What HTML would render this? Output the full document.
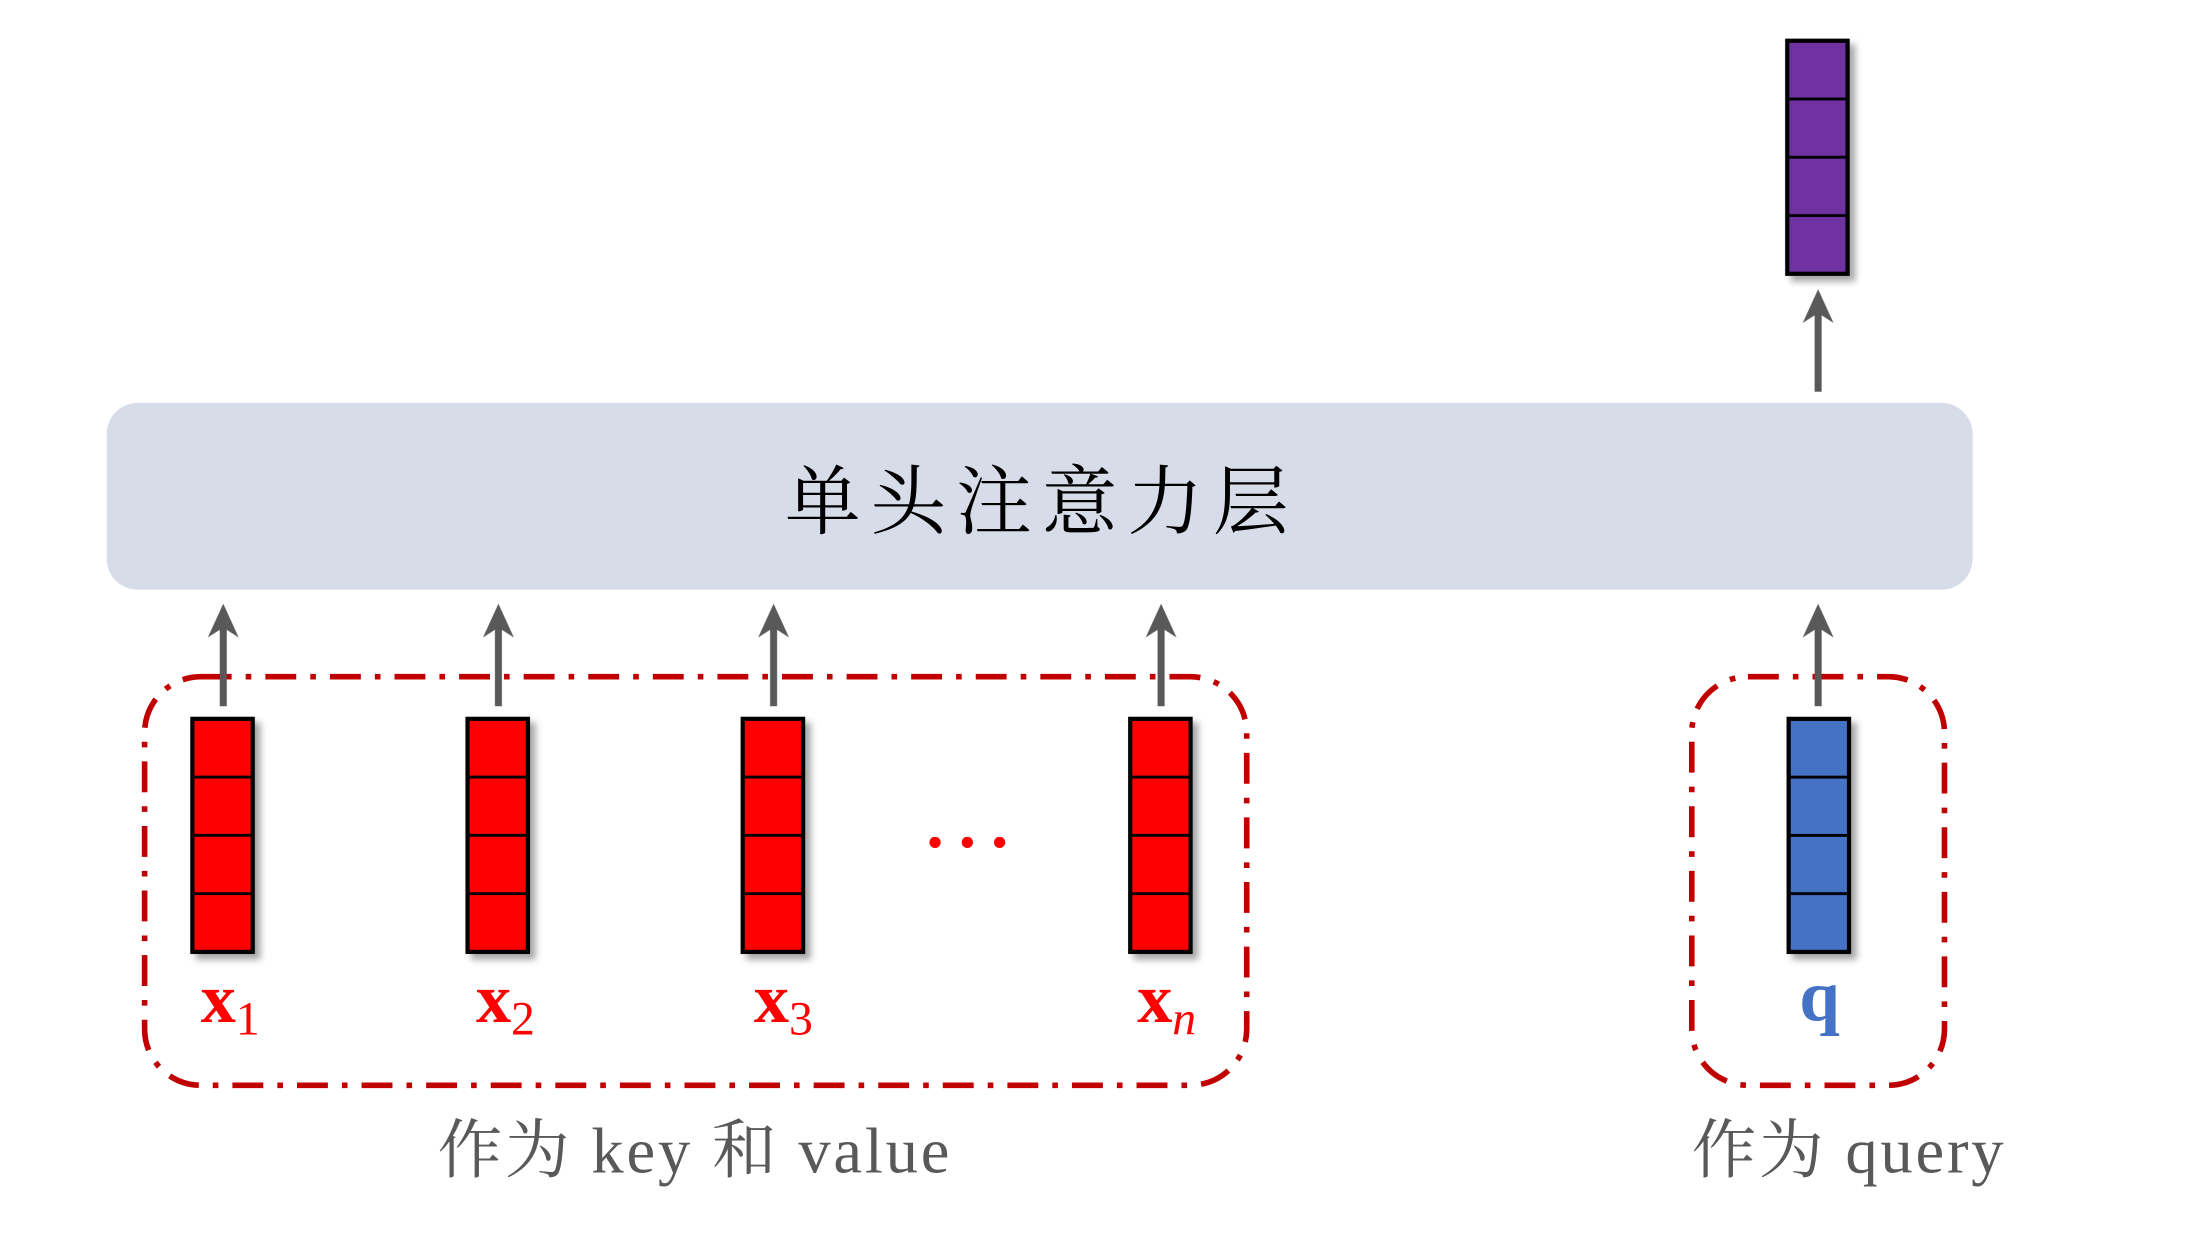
<!DOCTYPE html>
<html><head><meta charset="utf-8"><style>
html,body{margin:0;padding:0;background:#fff;width:2200px;height:1245px;overflow:hidden}
svg{display:block}
</style></head><body>
<svg width="2200" height="1245" viewBox="0 0 1567 885" preserveAspectRatio="xMinYMin meet" xmlns="http://www.w3.org/2000/svg">
<defs>
<filter id="sh" x="-30%" y="-10%" width="160%" height="130%"><feDropShadow dx="4" dy="4" stdDeviation="2.5" flood-color="#000" flood-opacity="0.35"/></filter>
<g id="cells">
<line x1="0" y1="41.5" x2="43" y2="41.5" stroke="#000" stroke-width="2"/>
<line x1="0" y1="83" x2="43" y2="83" stroke="#000" stroke-width="2"/>
<line x1="0" y1="124.5" x2="43" y2="124.5" stroke="#000" stroke-width="2"/>
</g>
<g id="arrow">
<line x1="0" y1="73" x2="0" y2="15" stroke="#595959" stroke-width="5"/>
<path d="M-11,24 L0,0 L11,24 L0,17 Z" fill="#595959"/>
</g>
</defs>
<rect x="76" y="287" width="1329" height="133" rx="22" fill="#d6dde8"/>
<text x="742" y="376" text-anchor="middle" font-family="'Noto Serif CJK SC',serif" font-size="54" fill="#000" letter-spacing="7">单头注意力层</text>

<rect x="103" y="482" width="785" height="291" rx="40" fill="none" stroke="#c00000" stroke-width="4" stroke-dasharray="22,10,4,10"/>
<rect x="1205" y="482" width="180" height="291" rx="40" fill="none" stroke="#c00000" stroke-width="4" stroke-dasharray="22,10,4,10"/>

<g filter="url(#sh)">
<g transform="translate(137,512)"><rect width="43" height="166" fill="#ff0000" stroke="#000" stroke-width="3"/><use href="#cells"/></g>
<g transform="translate(333,512)"><rect width="43" height="166" fill="#ff0000" stroke="#000" stroke-width="3"/><use href="#cells"/></g>
<g transform="translate(529,512)"><rect width="43" height="166" fill="#ff0000" stroke="#000" stroke-width="3"/><use href="#cells"/></g>
<g transform="translate(805,512)"><rect width="43" height="166" fill="#ff0000" stroke="#000" stroke-width="3"/><use href="#cells"/></g>
<g transform="translate(1274,512)"><rect width="43" height="166" fill="#4472c4" stroke="#000" stroke-width="3"/><use href="#cells"/></g>
<g transform="translate(1273,29)"><rect width="43" height="166" fill="#7030a0" stroke="#000" stroke-width="3"/><use href="#cells"/></g>
</g>

<use href="#arrow" transform="translate(159,430)"/>
<use href="#arrow" transform="translate(355,430)"/>
<use href="#arrow" transform="translate(551,430)"/>
<use href="#arrow" transform="translate(827,430)"/>
<use href="#arrow" transform="translate(1295,430)"/>
<use href="#arrow" transform="translate(1295,206)"/>

<circle cx="666" cy="600" r="4" fill="#ff0000"/>
<circle cx="689" cy="600" r="4" fill="#ff0000"/>
<circle cx="712" cy="600" r="4" fill="#ff0000"/>

<g font-family="'Liberation Serif',serif" fill="#ff0000">
<text x="143" y="728" font-size="50" font-weight="bold">x<tspan font-size="34" font-weight="normal" dy="9">1</tspan></text>
<text x="339" y="728" font-size="50" font-weight="bold">x<tspan font-size="34" font-weight="normal" dy="9">2</tspan></text>
<text x="537" y="728" font-size="50" font-weight="bold">x<tspan font-size="34" font-weight="normal" dy="9">3</tspan></text>
<text x="810" y="728" font-size="50" font-weight="bold">x<tspan font-size="34" font-weight="normal" font-style="italic" dy="9">n</tspan></text>
</g>
<text x="1296" y="727" text-anchor="middle" font-family="'Liberation Serif',serif" font-size="52" font-weight="bold" fill="#4472c4">q</text>

<text x="495" y="835" text-anchor="middle" font-family="'Liberation Serif','Noto Serif CJK SC',serif" font-size="46" fill="#595959" letter-spacing="2">作为 key 和 value</text>
<text x="1317" y="835" text-anchor="middle" font-family="'Liberation Serif','Noto Serif CJK SC',serif" font-size="46" fill="#595959" letter-spacing="2">作为 query</text>
</svg>
</body></html>
